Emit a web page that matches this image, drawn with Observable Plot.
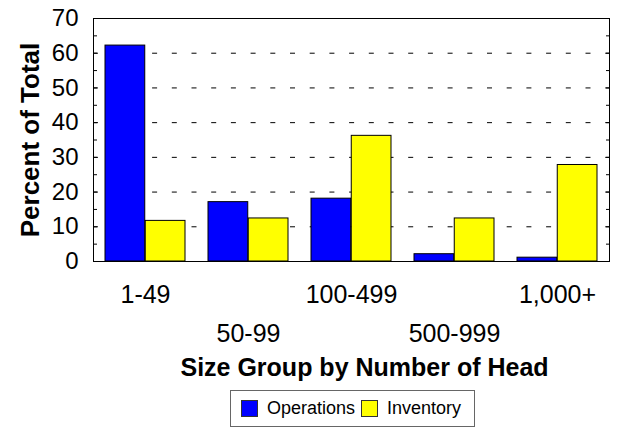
<!DOCTYPE html>
<html><head><meta charset="utf-8">
<script src="https://cdn.jsdelivr.net/npm/d3@7"></script>
<script src="https://cdn.jsdelivr.net/npm/@observablehq/plot@0.6"></script>
<style>
body{margin:0;background:#fff;font-family:"Liberation Sans",Arial,sans-serif;}
#wrap{position:relative;width:618px;height:428px;overflow:hidden;}
#legend{position:absolute;left:230px;top:390px;height:37px;box-sizing:border-box;border:1px solid #666;display:flex;align-items:center;padding:0 7px 0 10px;font-size:18px;color:#000;background:#fff;}
#legend .sw{width:15px;height:15px;border:1px solid #333;margin-right:9px;}
#legend .lab{margin-right:6px;}
</style>
</head><body>
<div id="wrap"><div id="chart"></div><div id="legend"></div></div>
<script>
const groups = ["1-49", "50-99", "100-499", "500-999", "1,000+"];
const operations = [62.2, 17.1, 18.1, 2.1, 1.1];
const inventory = [11.7, 12.4, 36.2, 12.4, 27.8];
const seriesNames = ["Operations", "Inventory"];
const seriesColors = ["#0000ff", "#ffff00"];
const yTicks = [0, 10, 20, 30, 40, 50, 60, 70];
const gridTicks = [10, 20, 30, 40, 50, 60];
const minorTicks = [5, 10, 15, 20, 25, 30, 35, 40, 45, 50, 55, 60, 65];
const xTitle = "Size Group by Number of Head";
const yTitle = "Percent of Total";

const W = 618, H = 388, mL = 93, mR = 9, mT = 18, mB = 127;
const padIn = 0.22, padOut = 0.11;
const step = (W - mL - mR) / (groups.length - padIn + 2 * padOut);
const half = step * (1 - padIn) / 2;

const opsData = groups.map((g, i) => ({group: g, value: operations[i]}));
const invData = groups.map((g, i) => ({group: g, value: inventory[i]}));

const chart = Plot.plot({
  width: W, height: H,
  marginTop: mT, marginBottom: mB, marginLeft: mL, marginRight: mR,
  style: {fontFamily: "'Liberation Sans', Arial, sans-serif", background: "white", color: "black"},
  x: {domain: groups, paddingInner: padIn, paddingOuter: padOut, align: 0.5, axis: null},
  y: {domain: [0, 70], axis: null},
  marks: [
    Plot.gridY(gridTicks, {stroke: "black", strokeOpacity: 1, strokeDasharray: "5,14.7"}),
    Plot.barY(opsData, {x: "group", y: "value", fill: seriesColors[0], stroke: "black", strokeWidth: 1, insetLeft: 0, insetRight: half}),
    Plot.barY(invData, {x: "group", y: "value", fill: seriesColors[1], stroke: "black", strokeWidth: 1, insetRight: 0, insetLeft: half}),
    Plot.frame({stroke: "black", strokeWidth: 1}),
    Plot.axisY(yTicks, {tickSize: 0, tickPadding: 15, fontSize: 24, label: null}),
    Plot.axisY(minorTicks, {anchor: "left", tickSize: 4, dx: 4, tickFormat: () => "", label: null}),
    Plot.axisY(minorTicks, {anchor: "right", tickSize: 4, dx: -4, tickFormat: () => "", label: null}),
    Plot.axisX(groups.filter((d, i) => i % 2 === 0), {tickSize: 0, tickPadding: 24, fontSize: 25, label: null, ariaLabel: "xlab1"}),
    Plot.axisX(groups.filter((d, i) => i % 2 === 1), {tickSize: 0, tickPadding: 63, fontSize: 25, label: null, ariaLabel: "xlab2"}),
    Plot.text([xTitle], {frameAnchor: "bottom", dy: 97, dx: 13, lineAnchor: "top", textAnchor: "middle", fontSize: 25, fontWeight: "bold", fill: "black", ariaLabel: "xtitle"}),
    Plot.text([yTitle], {frameAnchor: "left", rotate: -90, dx: -55, lineAnchor: "bottom", textAnchor: "middle", fontSize: 26, fontWeight: "bold", fill: "black", ariaLabel: "ytitle"})
  ]
});
document.getElementById("chart").appendChild(chart);
d3.select(chart).selectAll("g[aria-label='xtitle'] text").style("letter-spacing", "0.6px");
d3.select(chart).selectAll("g[aria-label='ytitle'] text").style("letter-spacing", "0.5px");

const legend = d3.select("#legend");
seriesNames.forEach((name, i) => {
  legend.append("div").attr("class", "sw").style("background", seriesColors[i]);
  legend.append("span").attr("class", "lab").text(name);
});
</script>
</body></html>
